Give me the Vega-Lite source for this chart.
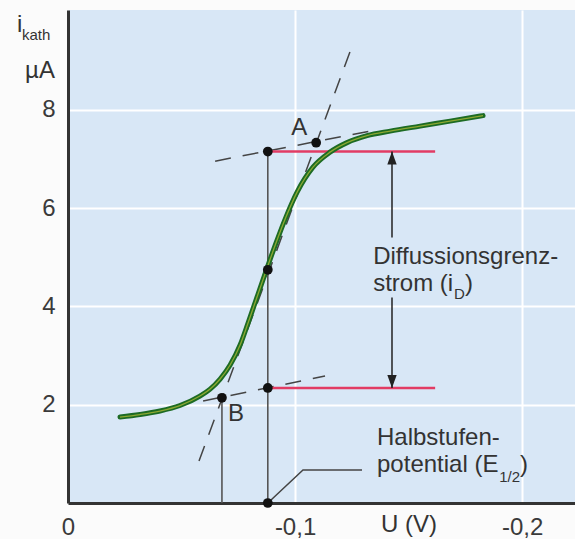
{
  "$schema": "https://vega.github.io/schema/vega-lite/v6.json",
  "width": 507,
  "height": 493,
  "autosize": {"type": "none"},
  "padding": {"left": 68, "top": 10, "right": 0, "bottom": 36},
  "background": "#fbfbfb",
  "config": {
    "view": {"fill": "#d8e7f6", "stroke": null},
    "font": "Liberation Sans",
    "axis": {
      "title": null,
      "grid": true,
      "gridColor": "#ffffff",
      "gridWidth": 2,
      "domainColor": "#333333",
      "domainWidth": 3,
      "ticks": false,
      "labelFont": "Liberation Sans",
      "labelFontSize": 24,
      "labelColor": "#3a3a3a",
      "labelFlush": false,
      "labelOverlap": false
    }
  },
  "datasets": {
    "curve": [
      {"u": -0.0229, "i": 1.749},
      {"u": -0.0317, "i": 1.800},
      {"u": -0.0405, "i": 1.871},
      {"u": -0.0493, "i": 1.983},
      {"u": -0.0581, "i": 2.176},
      {"u": -0.0626, "i": 2.318},
      {"u": -0.0670, "i": 2.522},
      {"u": -0.0714, "i": 2.807},
      {"u": -0.0758, "i": 3.213},
      {"u": -0.0793, "i": 3.661},
      {"u": -0.0828, "i": 4.129},
      {"u": -0.0872, "i": 4.718},
      {"u": -0.0916, "i": 5.288},
      {"u": -0.0960, "i": 5.817},
      {"u": -0.1009, "i": 6.325},
      {"u": -0.1079, "i": 6.833},
      {"u": -0.1154, "i": 7.138},
      {"u": -0.1229, "i": 7.332},
      {"u": -0.1317, "i": 7.474},
      {"u": -0.1419, "i": 7.566},
      {"u": -0.1551, "i": 7.668},
      {"u": -0.1683, "i": 7.769},
      {"u": -0.1828, "i": 7.881}
    ],
    "tangents": [
      {"u": -0.0648, "i": 6.955, "u2": -0.1330, "i2": 7.566},
      {"u": -0.0577, "i": 0.854, "u2": -0.1256, "i2": 9.355},
      {"u": -0.0595, "i": 2.074, "u2": -0.1132, "i2": 2.583}
    ],
    "verticals": [
      {"u": -0.088, "i": 0, "u2": -0.088, "i2": 7.15},
      {"u": -0.0678, "i": 0, "u2": -0.0678, "i2": 2.14}
    ],
    "plateaus": [
      {"u": -0.088, "i": 7.15, "u2": -0.1617, "i2": 7.15},
      {"u": -0.088, "i": 2.34, "u2": -0.1617, "i2": 2.34}
    ],
    "shafts": [
      {"u": -0.1427, "i": 7.15, "u2": -0.1427, "i2": 5.40},
      {"u": -0.1427, "i": 4.18, "u2": -0.1427, "i2": 2.34}
    ],
    "headUp": [{"u": -0.1427, "i": 7.15}],
    "headDown": [{"u": -0.1427, "i": 2.34}],
    "leader": [
      {"u": -0.088, "i": 0, "k": 1},
      {"u": -0.1035, "i": 0.672, "k": 2},
      {"u": -0.1295, "i": 0.672, "k": 3}
    ],
    "dots": [
      {"u": -0.088, "i": 7.15},
      {"u": -0.1093, "i": 7.33},
      {"u": -0.088, "i": 4.745},
      {"u": -0.088, "i": 2.34},
      {"u": -0.0678, "i": 2.14},
      {"u": -0.088, "i": 0}
    ],
    "textMain": [
      {"u": -0.1344, "i": 4.86, "t": "Diffussionsgrenz-"},
      {"u": -0.1344, "i": 4.31, "t": "strom (i"},
      {"u": -0.1749, "i": 4.31, "t": ")"},
      {"u": -0.1361, "i": 1.19, "t": "Halbstufen-"},
      {"u": -0.1361, "i": 0.63, "t": "potential (E"},
      {"u": -0.1991, "i": 0.63, "t": ")"}
    ],
    "unitText": [
      {"u": 0.0225, "i": 9.58, "t": "i"},
      {"u": 0.0189, "i": 8.64, "t": "µA"}
    ],
    "textSub": [
      {"u": 0.0203, "i": 9.42, "t": "kath"},
      {"u": -0.1700, "i": 4.15, "t": "D"},
      {"u": -0.1899, "i": 0.43, "t": "1/2"}
    ],
    "textCenter": [
      {"u": -0.1018, "i": 7.63, "t": "A"},
      {"u": -0.074, "i": 1.81, "t": "B"},
      {"u": -0.1502, "i": -0.447, "t": "U (V)"}
    ]
  },
  "layer": [
    {
      "data": {"name": "tangents"},
      "mark": {"type": "rule", "color": "#444444", "strokeWidth": 1.5, "strokeDash": [16, 12]},
      "encoding": {
        "x": {
          "field": "u", "type": "quantitative",
          "scale": {"domain": [0, -0.2233], "nice": false, "zero": false},
          "axis": {
            "values": [0, -0.1, -0.2],
            "labelPadding": 12,
            "labelExpr": "datum.value == 0 ? '0' : '-' + replace(format(-datum.value, '.1f'), '.', ',')"
          }
        },
        "y": {
          "field": "i", "type": "quantitative",
          "scale": {"domain": [0, 10.03], "nice": false, "zero": false},
          "axis": {"values": [2, 4, 6, 8], "labelPadding": 13}
        },
        "x2": {"field": "u2"},
        "y2": {"field": "i2"}
      }
    },
    {
      "data": {"name": "verticals"},
      "mark": {"type": "rule", "color": "#555555", "strokeWidth": 1.6},
      "encoding": {
        "x": {"field": "u", "type": "quantitative"},
        "y": {"field": "i", "type": "quantitative"},
        "x2": {"field": "u2"},
        "y2": {"field": "i2"}
      }
    },
    {
      "data": {"name": "plateaus"},
      "mark": {"type": "rule", "color": "#e23c64", "strokeWidth": 2.5},
      "encoding": {
        "x": {"field": "u", "type": "quantitative"},
        "y": {"field": "i", "type": "quantitative"},
        "x2": {"field": "u2"},
        "y2": {"field": "i2"}
      }
    },
    {
      "data": {"name": "shafts"},
      "mark": {"type": "rule", "color": "#222222", "strokeWidth": 1.5},
      "encoding": {
        "x": {"field": "u", "type": "quantitative"},
        "y": {"field": "i", "type": "quantitative"},
        "x2": {"field": "u2"},
        "y2": {"field": "i2"}
      }
    },
    {
      "data": {"name": "headUp"},
      "mark": {"type": "point", "shape": "M0,0L-0.36,1L0.36,1Z", "filled": true, "size": 676, "color": "#222222", "opacity": 1},
      "encoding": {
        "x": {"field": "u", "type": "quantitative"},
        "y": {"field": "i", "type": "quantitative"}
      }
    },
    {
      "data": {"name": "headDown"},
      "mark": {"type": "point", "shape": "M0,0L-0.36,-1L0.36,-1Z", "filled": true, "size": 676, "color": "#222222", "opacity": 1},
      "encoding": {
        "x": {"field": "u", "type": "quantitative"},
        "y": {"field": "i", "type": "quantitative"}
      }
    },
    {
      "data": {"name": "leader"},
      "mark": {"type": "line", "color": "#444444", "strokeWidth": 1.5},
      "encoding": {
        "x": {"field": "u", "type": "quantitative"},
        "y": {"field": "i", "type": "quantitative"},
        "order": {"field": "k"}
      }
    },
    {
      "data": {"name": "curve"},
      "mark": {"type": "line", "color": "#1d6b24", "strokeWidth": 5, "interpolate": "monotone", "strokeCap": "round"},
      "encoding": {
        "x": {"field": "u", "type": "quantitative"},
        "y": {"field": "i", "type": "quantitative"}
      }
    },
    {
      "data": {"name": "curve"},
      "mark": {"type": "line", "color": "#a9b935", "strokeWidth": 1.3, "interpolate": "monotone", "opacity": 0.8},
      "encoding": {
        "x": {"field": "u", "type": "quantitative"},
        "y": {"field": "i", "type": "quantitative"}
      }
    },
    {
      "data": {"name": "dots"},
      "mark": {"type": "point", "filled": true, "size": 95, "color": "#111111", "opacity": 1},
      "encoding": {
        "x": {"field": "u", "type": "quantitative"},
        "y": {"field": "i", "type": "quantitative"}
      }
    },
    {
      "data": {"name": "textMain"},
      "mark": {"type": "text", "align": "left", "baseline": "alphabetic", "fontSize": 24, "color": "#333333"},
      "encoding": {
        "x": {"field": "u", "type": "quantitative"},
        "y": {"field": "i", "type": "quantitative"},
        "text": {"field": "t"}
      }
    },
    {
      "data": {"name": "unitText"},
      "mark": {"type": "text", "align": "left", "baseline": "alphabetic", "fontSize": 24, "color": "#333333"},
      "encoding": {
        "x": {"field": "u", "type": "quantitative"},
        "y": {"field": "i", "type": "quantitative"},
        "text": {"field": "t"}
      }
    },
    {
      "data": {"name": "textSub"},
      "mark": {"type": "text", "align": "left", "baseline": "alphabetic", "fontSize": 15, "color": "#333333"},
      "encoding": {
        "x": {"field": "u", "type": "quantitative"},
        "y": {"field": "i", "type": "quantitative"},
        "text": {"field": "t"}
      }
    },
    {
      "data": {"name": "textCenter"},
      "mark": {"type": "text", "align": "center", "baseline": "middle", "fontSize": 24, "color": "#333333"},
      "encoding": {
        "x": {"field": "u", "type": "quantitative"},
        "y": {"field": "i", "type": "quantitative"},
        "text": {"field": "t"}
      }
    }
  ]
}
